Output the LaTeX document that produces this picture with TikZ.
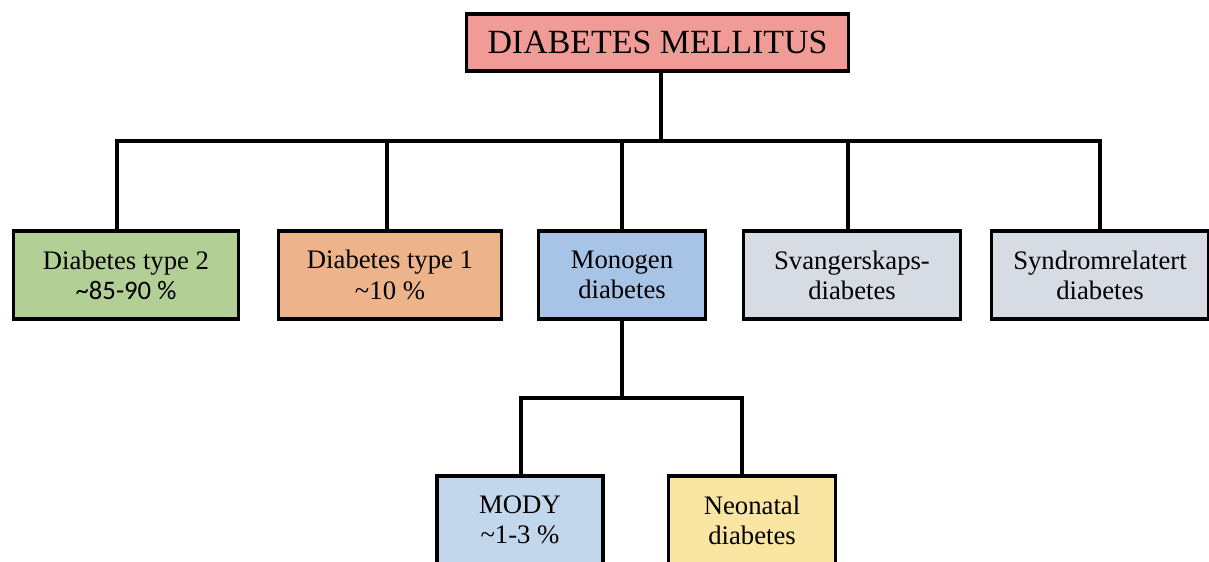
\documentclass[tikz,border=0pt]{standalone}
\usepackage{fontspec}
\setmainfont{Liberation Serif}
\newfontfamily\calibri{Carlito}
\definecolor{dmred}{HTML}{F09B96}
\definecolor{typetwo}{HTML}{B2CF96}
\definecolor{typeone}{HTML}{EDB38B}
\definecolor{monoblue}{HTML}{A7C4E6}
\definecolor{greyblue}{HTML}{D7DCE4}
\definecolor{modyblue}{HTML}{C2D7EC}
\definecolor{neoyellow}{HTML}{FBE5A3}

\begin{document}
\begin{tikzpicture}[x=0.02cm, y=-0.02cm,
		box/.style={draw, line width=1.8pt, align=center, inner sep=0pt,
			minimum height=1.76cm, font=\fontsize{15.2}{17.2}\selectfont},
		link/.style={-, line width=1.8pt, line cap=rect}]
				\useasboundingbox (0,0) rectangle (1209,561);
				\clip (0,0) rectangle (1209,561);

				\node[box, fill=dmred, minimum width=7.64cm, minimum height=1.14cm,
					font=\fontsize{19.3}{22}\selectfont] (dm) at (657.5,42.5) {DIABETES MELLITUS};

				\node[box, fill=typetwo, minimum width=4.5cm] (t2) at (126,275)
					{Diabetes type 2\\{\calibri\textasciitilde 85-90 \%}};
				\node[box, fill=typeone, minimum width=4.46cm] (t1) at (390,275)
					{Diabetes type 1\\\textasciitilde 10 \%};
				\node[box, fill=monoblue, minimum width=3.34cm] (mono) at (622,275)
					{Monogen\\diabetes};
				\node[box, fill=greyblue, minimum width=4.34cm] (svang) at (852,275)
					{Svangerskaps-\\diabetes};
				\node[box, fill=greyblue, minimum width=4.34cm] (synd) at (1100,275)
					{Syndromrelatert\\diabetes};

				\node[box, fill=modyblue, minimum width=3.32cm] (mody) at (520,520)
					{MODY\\\textasciitilde 1-3 \%};
				\node[box, fill=neoyellow, minimum width=3.34cm] (neo) at (752,520)
					{Neonatal\\diabetes};

				% junctions on the two buses
				\coordinate (bus) at (661,141);
				\coordinate (j2) at (117,141);
				\coordinate (j1) at (387,141);
				\coordinate (jm) at (622,141);
				\coordinate (js) at (848,141);
				\coordinate (jy) at (1100,141);
				\coordinate (bus2) at (622,398);
				\coordinate (jmo) at (521,398);
				\coordinate (jne) at (742,398);

				\draw[link] (dm.south -| bus) to (bus);
				\draw[link] (j2) to (jy);
				\draw[link] (j2) to (j2 |- t2.north);
				\draw[link] (j1) to (j1 |- t1.north);
				\draw[link] (jm) to (mono.north);
				\draw[link] (js) to (js |- svang.north);
				\draw[link] (jy) to (synd.north);

				\draw[link] (mono.south) to (bus2);
				\draw[link] (jmo) to (jne);
				\draw[link] (jmo) to (jmo |- mody.north);
				\draw[link] (jne) to (jne |- neo.north);
			\end{tikzpicture}
\end{document}
